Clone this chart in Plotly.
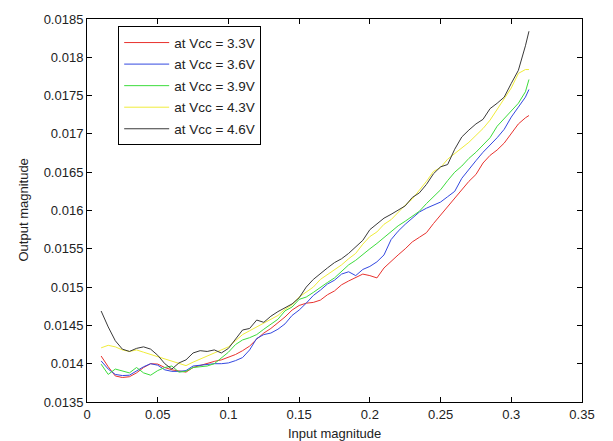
import plotly.graph_objects as go

x_input = [0.010, 0.015, 0.020, 0.025, 0.030, 0.035, 0.040, 0.045, 0.050, 0.055,
           0.060, 0.065, 0.070, 0.075, 0.080, 0.085, 0.090, 0.095, 0.100, 0.105,
           0.110, 0.115, 0.120, 0.125, 0.130, 0.135, 0.140, 0.145, 0.150, 0.155,
           0.160, 0.165, 0.170, 0.175, 0.180, 0.185, 0.190, 0.195, 0.200, 0.205,
           0.210, 0.215, 0.220, 0.225, 0.230, 0.235, 0.240, 0.245, 0.250, 0.255,
           0.260, 0.265, 0.270, 0.275, 0.280, 0.285, 0.290, 0.295, 0.300, 0.305,
           0.310, 0.3125]

vcc_33 = [0.014100, 0.013960, 0.013840, 0.013820, 0.013830, 0.013880, 0.013950, 0.014000, 0.013995, 0.013950,
          0.013920, 0.013900, 0.013890, 0.013950, 0.013980, 0.014010, 0.014030, 0.014050, 0.014080, 0.014120,
          0.014170, 0.014230, 0.014320, 0.014400, 0.014460, 0.014530, 0.014610, 0.014700, 0.014760, 0.014790,
          0.014800, 0.014830, 0.014900, 0.014950, 0.015030, 0.015080, 0.015130, 0.015170, 0.015150, 0.015120,
          0.015250, 0.015340, 0.015420, 0.015500, 0.015590, 0.015650, 0.015710, 0.015830, 0.015940, 0.016050,
          0.016160, 0.016280, 0.016380, 0.016470, 0.016620, 0.016720, 0.016790, 0.016880, 0.017000, 0.017130,
          0.017210, 0.017240]

vcc_36 = [0.014036, 0.013930, 0.013860, 0.013845, 0.013850, 0.013910, 0.013960, 0.014000, 0.013980, 0.013920,
          0.013900, 0.013900, 0.013910, 0.013970, 0.013980, 0.013990, 0.014000, 0.014000, 0.014010, 0.014040,
          0.014080, 0.014180, 0.014330, 0.014380, 0.014400, 0.014450, 0.014520, 0.014630, 0.014700, 0.014790,
          0.014890, 0.014960, 0.015040, 0.015090, 0.015170, 0.015200, 0.015150, 0.015230, 0.015270, 0.015330,
          0.015420, 0.015620, 0.015730, 0.015820, 0.015900, 0.015980, 0.016030, 0.016070, 0.016110, 0.016180,
          0.016250, 0.016420, 0.016540, 0.016650, 0.016760, 0.016850, 0.016950, 0.017060, 0.017220, 0.017350,
          0.017480, 0.017580]

vcc_39 = [0.013994, 0.013860, 0.013930, 0.013900, 0.013880, 0.013950, 0.013880, 0.013850, 0.013910, 0.013950,
          0.013970, 0.013890, 0.013900, 0.013950, 0.013960, 0.013970, 0.014000, 0.014080, 0.014150, 0.014250,
          0.014310, 0.014340, 0.014380, 0.014450, 0.014520, 0.014580, 0.014690, 0.014740, 0.014840, 0.014870,
          0.014930, 0.015000, 0.015060, 0.015120, 0.015210, 0.015290, 0.015350, 0.015430, 0.015500, 0.015570,
          0.015650, 0.015720, 0.015800, 0.015860, 0.015920, 0.015990, 0.016090, 0.016180, 0.016270, 0.016390,
          0.016500, 0.016580, 0.016680, 0.016760, 0.016850, 0.016950, 0.017100, 0.017200, 0.017300, 0.017400,
          0.017550, 0.017710]

vcc_43 = [0.014207, 0.014240, 0.014220, 0.014180, 0.014160, 0.014180, 0.014150, 0.014120, 0.014100, 0.014060,
          0.014030, 0.014000, 0.013975, 0.014020, 0.014060, 0.014090, 0.014140, 0.014180, 0.014220, 0.014300,
          0.014380, 0.014430, 0.014480, 0.014520, 0.014570, 0.014630, 0.014710, 0.014770, 0.014870, 0.014930,
          0.015000, 0.015100, 0.015160, 0.015230, 0.015290, 0.015370, 0.015440, 0.015560, 0.015660, 0.015720,
          0.015820, 0.015880, 0.015980, 0.016070, 0.016150, 0.016260, 0.016380, 0.016510, 0.016560, 0.016670,
          0.016740, 0.016810, 0.016890, 0.016980, 0.017070, 0.017180, 0.017320, 0.017450, 0.017600, 0.017790,
          0.017840, 0.017840]

vcc_46 = [0.014688, 0.014480, 0.014300, 0.014190, 0.014160, 0.014200, 0.014220, 0.014190, 0.014110, 0.014000,
          0.013930, 0.014010, 0.014050, 0.014140, 0.014170, 0.014160, 0.014180, 0.014140, 0.014200, 0.014320,
          0.014440, 0.014460, 0.014570, 0.014540, 0.014620, 0.014680, 0.014730, 0.014780, 0.014860, 0.015000,
          0.015100, 0.015180, 0.015250, 0.015320, 0.015370, 0.015440, 0.015520, 0.015610, 0.015750, 0.015830,
          0.015900, 0.015950, 0.016010, 0.016060, 0.016170, 0.016230, 0.016340, 0.016480, 0.016570, 0.016600,
          0.016800, 0.016960, 0.017050, 0.017130, 0.017190, 0.017330, 0.017400, 0.017480, 0.017660, 0.017830,
          0.018150, 0.018340]

series_names = ["at Vcc = 3.3V", "at Vcc = 3.6V", "at Vcc = 3.9V", "at Vcc = 4.3V", "at Vcc = 4.6V"]
series_values = [vcc_33, vcc_36, vcc_39, vcc_43, vcc_46]
series_colors = ["#e8322e", "#3348e0", "#3ddc3d", "#f0ec3a", "#3a3a3a"]
x_title = "Input magnitude"
y_title = "Output magnitude"

fig = go.Figure()
for i, (name, vals, col) in enumerate(zip(series_names, series_values, series_colors)):
    fig.add_trace(go.Scatter(x=x_input, y=vals, mode="lines", name=name,
                             legendgroup=f"g{i}",
                             line=dict(color=col, width=1)))

axis_common = dict(showline=True, linecolor="black", linewidth=1, mirror="ticks",
                   ticks="inside", ticklen=5, tickcolor="black", showgrid=False,
                   zeroline=False, ticklabeloverflow="allow",
                   tickfont=dict(size=13, color="#222"))

fig.update_layout(
    width=613, height=441,
    margin=dict(l=87, r=31, t=13, b=39),
    paper_bgcolor="white", plot_bgcolor="white",
    font=dict(family="Liberation Sans, Arial, sans-serif", size=13, color="#222"),
    xaxis=dict(range=[0, 0.35], dtick=0.05, tick0=0, **axis_common),
    yaxis=dict(range=[0.0135, 0.0185], dtick=0.0005, tick0=0.0135, **axis_common),
    legend=dict(x=0.063, y=0.981, xanchor="left", yanchor="top",
                bordercolor="black", borderwidth=1, bgcolor="white",
                font=dict(size=13.5, color="#222"), tracegroupgap=1,
                itemwidth=45),
    showlegend=True,
)

fig.add_annotation(text=x_title, xref="paper", yref="paper", x=0.5, y=0,
                   xanchor="center", yanchor="middle", yshift=-31,
                   showarrow=False, font=dict(size=13, color="#222"))
fig.add_annotation(text=y_title, xref="paper", yref="paper", x=0, y=0.5,
                   xanchor="center", yanchor="middle", xshift=-64, textangle=-90,
                   showarrow=False, font=dict(size=13, color="#222"))

# Remove the browser's default 8px body margin so the figure fills the window exactly.
fig.write_html("out.html", config={"displayModeBar": False},
               post_script="document.body.style.margin='0px';")
